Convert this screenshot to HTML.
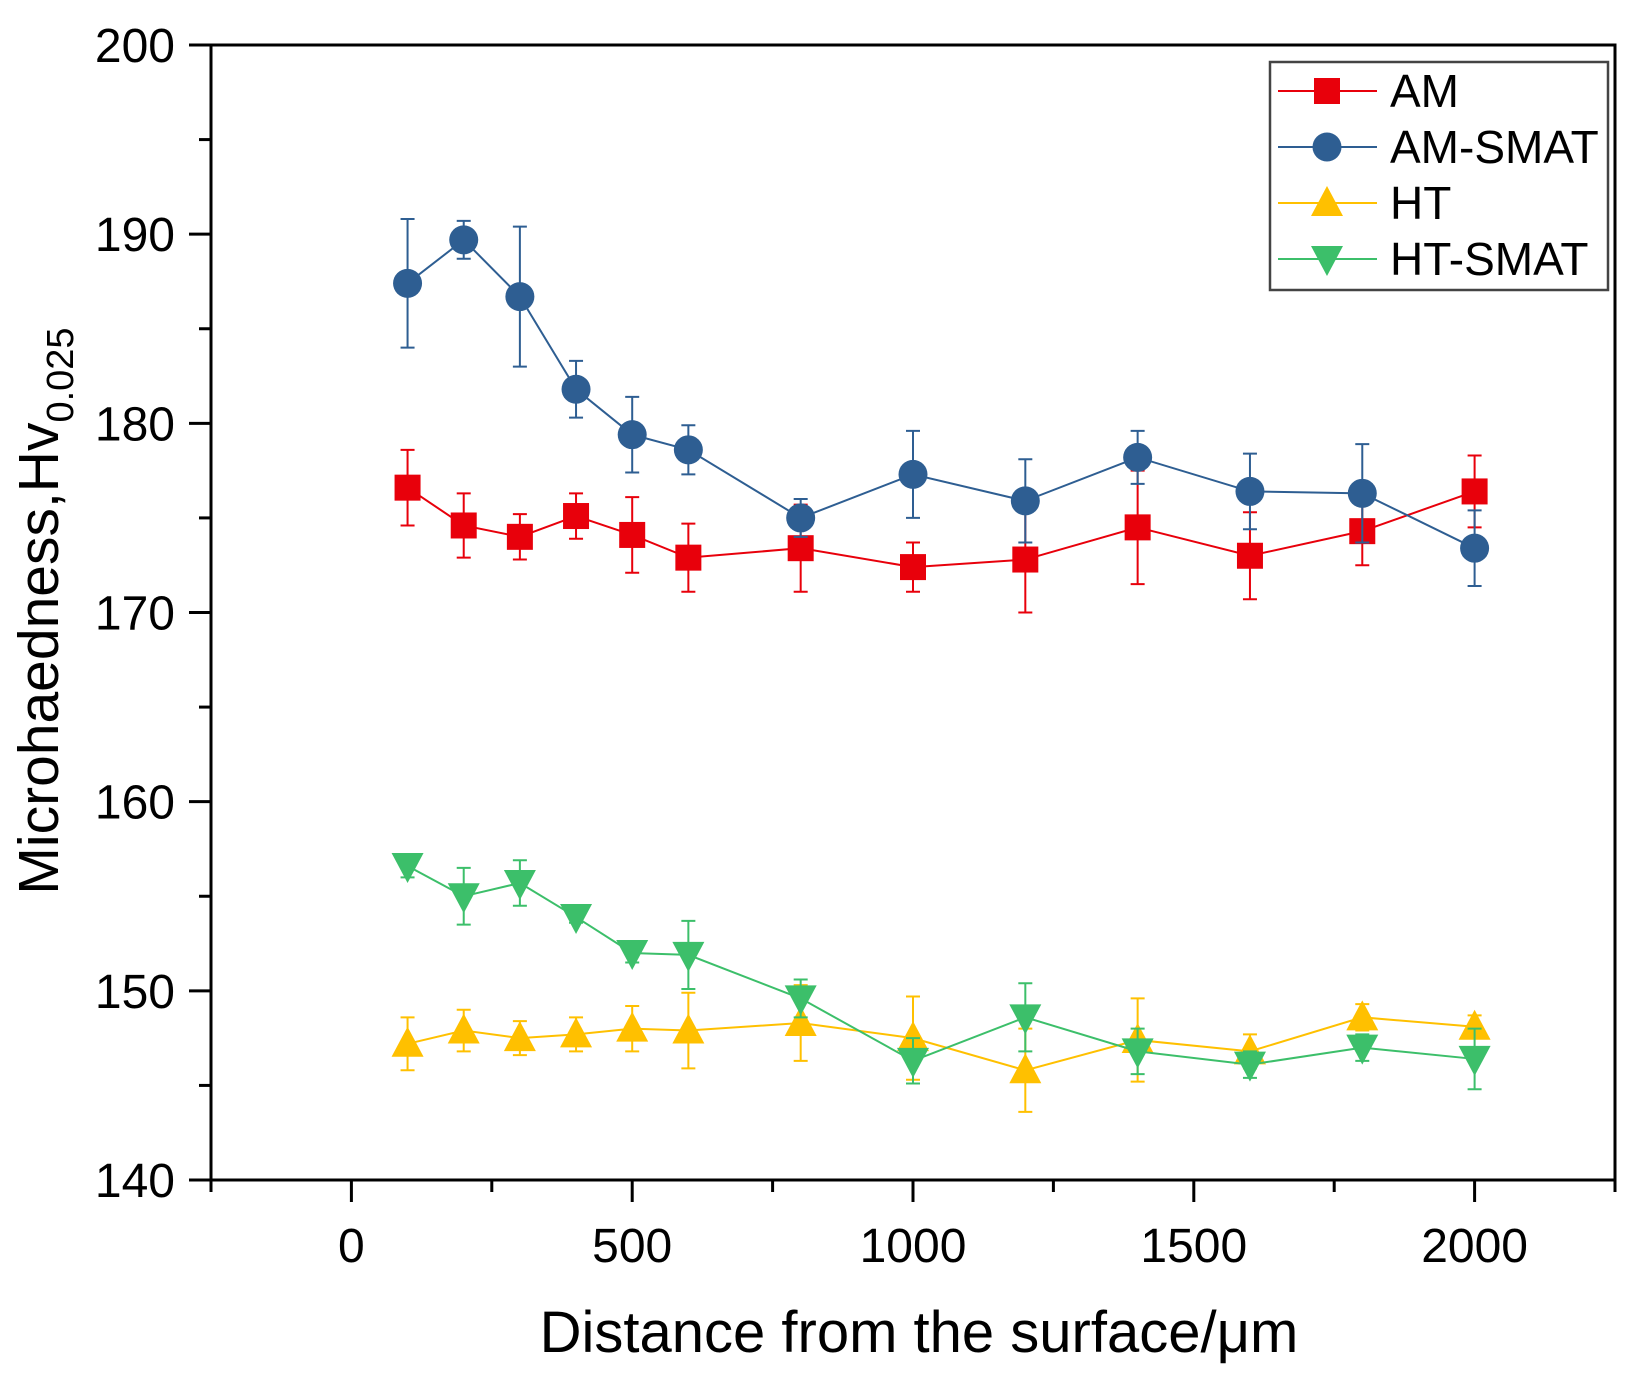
<!DOCTYPE html>
<html><head><meta charset="utf-8"><style>
html,body{margin:0;padding:0;background:#fff;}
svg{display:block;font-family:"Liberation Sans",Arial,sans-serif;}
</style></head><body>
<svg id="chart" width="1644" height="1379" viewBox="0 0 1644 1379">
<g id="plot"></g>
<text x="919" y="1352" font-size="58" text-anchor="middle">Distance from the surface/μm</text>
<text transform="translate(58,611) rotate(-90)" font-size="57" text-anchor="middle">Microhaedness,Hv<tspan font-size="38" dy="15">0.025</tspan></text>
</svg>
<script>
const xs = [100,200,300,400,500,600,800,1000,1200,1400,1600,1800,2000];
const amVals = [176.6,174.6,174.0,175.1,174.1,172.9,173.4,172.4,172.8,174.5,173.0,174.3,176.4];
const amErr = [2.0,1.7,1.2,1.2,2.0,1.8,2.3,1.3,2.8,3.0,2.3,1.8,1.9];
const amsVals = [187.4,189.7,186.7,181.8,179.4,178.6,175.0,177.3,175.9,178.2,176.4,176.3,173.4];
const amsErr = [3.4,1.0,3.7,1.5,2.0,1.3,1.0,2.3,2.2,1.4,2.0,2.6,2.0];
const htVals = [147.2,147.9,147.5,147.7,148.0,147.9,148.3,147.5,145.8,147.4,146.8,148.6,148.1];
const htErr = [1.4,1.1,0.9,0.9,1.2,2.0,2.0,2.2,2.2,2.2,0.9,0.7,0.6];
const htsVals = [156.6,155.0,155.7,153.9,152.0,151.9,149.6,146.3,148.6,146.8,146.1,147.0,146.4];
const htsErr = [0.6,1.5,1.2,0.3,0.5,1.8,1.0,1.2,1.8,1.2,0.7,0.7,1.6];
const yTicks = [140,150,160,170,180,190,200];
const xTicks = [0,500,1000,1500,2000];
const seriesNames = ["AM","AM-SMAT","HT","HT-SMAT"];

const NS="http://www.w3.org/2000/svg";
const L=211,R=1615,T=45,B=1180;
const xMin=-250,xMax=2250,yMin=140,yMax=200;
const X=v=>L+(v-xMin)/(xMax-xMin)*(R-L);
const Y=v=>B-(v-yMin)/(yMax-yMin)*(B-T);
const g=document.getElementById('plot');
function mk(tag,attrs,parent){const e=document.createElementNS(NS,tag);for(const k in attrs)e.setAttribute(k,attrs[k]);(parent||g).appendChild(e);return e;}

const fr=mk('rect',{x:L,y:T,width:R-L,height:B-T,fill:'none',stroke:'#000','stroke-width':3});


for(let v=140;v<=200;v+=5){
  const major=v%10===0;
  const t=mk('line',{x1:L,x2:L-(major?22:12),y1:Y(v),y2:Y(v),stroke:'#000','stroke-width':3});
  
  
}
yTicks.forEach(v=>{
  const t=mk('text',{x:175,y:Y(v)+17,'font-size':48,'text-anchor':'end'});
  t.textContent=v;
  
  
});
for(let v=-250;v<=2250;v+=250){
  const major=v%500===0;
  const t=mk('line',{x1:X(v),x2:X(v),y1:B,y2:B+(major?22:12),stroke:'#000','stroke-width':3});
  
  
}
xTicks.forEach(v=>{
  const t=mk('text',{x:X(v),y:1262,'font-size':48,'text-anchor':'middle'});
  t.textContent=v;
  
  
});

function marker(type,cx,cy,col,parent){
  const s=13;let e;
  if(type==='sq') e=mk('rect',{x:cx-s,y:cy-s,width:2*s,height:2*s,fill:col},parent);
  else if(type==='ci') e=mk('circle',{cx:cx,cy:cy,r:s+1.5,fill:col},parent);
  else if(type==='up') e=mk('polygon',{points:`${cx},${cy-s-4} ${cx+s+3},${cy+s} ${cx-s-3},${cy+s}`,fill:col},parent);
  else e=mk('polygon',{points:`${cx},${cy+s+4} ${cx+s+3},${cy-s} ${cx-s-3},${cy-s}`,fill:col},parent);
  return e;
}
const series=[
  {name:'am',vals:amVals,err:amErr,col:'#e8000b',m:'sq'},
  {name:'am-smat',vals:amsVals,err:amsErr,col:'#2e5e92',m:'ci'},
  {name:'ht',vals:htVals,err:htErr,col:'#ffc000',m:'up'},
  {name:'ht-smat',vals:htsVals,err:htsErr,col:'#3cbf6a',m:'dn'}
];
series.forEach(s=>{
  const sg=mk('g',{});
  
  
  const ln=mk('polyline',{points:xs.map((x,i)=>X(x)+','+Y(s.vals[i])).join(' '),fill:'none',stroke:s.col,'stroke-width':2},sg);
  
  
  xs.forEach((x,i)=>{
    const cx=X(x),y1=Y(s.vals[i]+s.err[i]),y2=Y(s.vals[i]-s.err[i]);
    const eb=mk('path',{d:`M${cx},${y1}V${y2}M${cx-7},${y1}H${cx+7}M${cx-7},${y2}H${cx+7}`,stroke:s.col,'stroke-width':2,fill:'none'},sg);
    
    
  });
  xs.forEach((x,i)=>{
    const p=marker(s.m,X(x),Y(s.vals[i]),s.col,sg);
    
    
  });
});

const lg=mk('g',{});


const lb=mk('rect',{x:1270,y:62,width:338,height:228,fill:'#fff',stroke:'#444','stroke-width':2.5},lg);


seriesNames.forEach((n,i)=>{
  const s=series[i],y=91+i*56;
  const e=mk('g',{},lg);
  
  
  mk('line',{x1:1278,x2:1377,y1:y,y2:y,stroke:s.col,'stroke-width':2},e);
  marker(s.m,1327,y,s.col,e);
  const t=mk('text',{x:1390,y:y+16,'font-size':46},e);
  t.textContent=n;
});
</script>
</body></html>
